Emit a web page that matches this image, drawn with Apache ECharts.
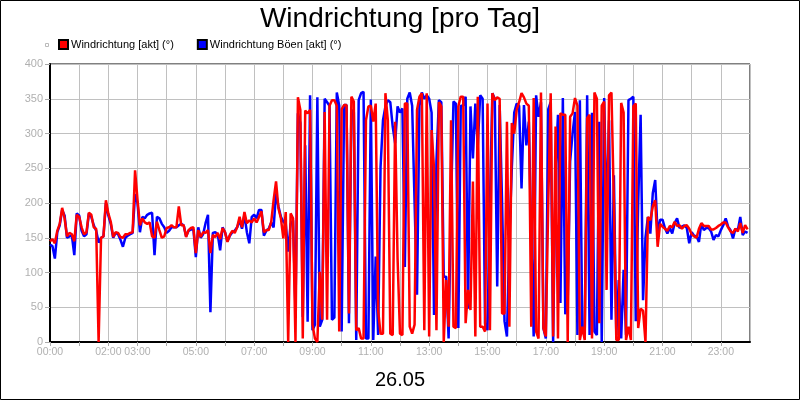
<!DOCTYPE html>
<html>
<head>
<meta charset="utf-8">
<script src="https://cdn.jsdelivr.net/npm/echarts@6/dist/echarts.min.js"></script>
<style>
  body { margin: 0; background: #fff; }
  #chart { width: 800px; height: 400px; }
</style>
</head>
<body>
<div id="chart"></div>
<script>
// 5-Minuten-Werte, eine Zeile pro Stunde (00:00 .. 23:55)
const windAkt = [
  145, 148, 142, 160, 170, 193, 178, 152, 157, 155, 145, 183,
  180, 165, 155, 158, 186, 183, 165, 163, 0, 150, 152, 204,
  185, 173, 151, 158, 157, 151, 150, 155, 155, 157, 158, 247,
  205, 168, 178, 172, 170, 172, 152, 150, 173, 161, 150, 152,
  164, 165, 168, 165, 165, 195, 168, 168, 151, 161, 164, 165,
  128, 161, 151, 158, 157, 161, 128, 154, 151, 157, 148, 164,
  158, 144, 154, 160, 157, 165, 180, 165, 187, 171, 175, 172,
  178, 172, 180, 188, 158, 161, 161, 172, 204, 231, 192, 178,
  149, 187, 0, 185, 178, 0, 352, 334, 5, 333, 329, 334,
  25, 5, 0, 101, 32, 331, 32, 340, 348, 348, 340, 15,
  335, 341, 341, 41, 353, 346, 17, 20, 5, 5, 319, 339,
  340, 317, 343, 46, 12, 12, 358, 319, 12, 10, 317, 120,
  12, 10, 343, 343, 22, 12, 25, 334, 353, 358, 17, 358,
  8, 305, 250, 17, 345, 339, 0, 89, 22, 319, 22, 20,
  339, 353, 353, 27, 75, 46, 231, 8, 353, 22, 22, 15,
  343, 17, 358, 348, 352, 350, 41, 41, 317, 22, 315, 300,
  334, 345, 358, 352, 343, 340, 22, 351, 15, 5, 359, 20,
  8, 200, 358, 8, 310, 5, 329, 327, 327, 0, 324, 329,
  351, 340, 3, 22, 3, 322, 327, 5, 359, 350, 27, 340,
  346, 75, 355, 359, 200, 3, 3, 344, 330, 3, 22, 3,
  339, 343, 20, 48, 45, 0, 180, 175, 195, 204, 137, 170,
  166, 163, 160, 167, 165, 173, 167, 168, 163, 167, 168, 163,
  155, 152, 150, 163, 171, 167, 167, 167, 162, 162, 164, 167,
  169, 172, 172, 165, 159, 157, 163, 159, 171, 157, 168, 162
];
const windBoeen = [
  140, 138, 120, 158, 168, 190, 182, 150, 152, 153, 125, 185,
  182, 160, 152, 155, 185, 180, 168, 160, 143, 150, 152, 200,
  182, 170, 150, 157, 155, 147, 137, 150, 153, 155, 157, 213,
  200, 158, 180, 178, 183, 185, 186, 125, 180, 178, 170, 165,
  157, 160, 165, 165, 165, 168, 170, 168, 152, 160, 162, 162,
  122, 165, 150, 155, 171, 183, 43, 157, 158, 155, 132, 165,
  158, 145, 153, 158, 160, 165, 175, 163, 183, 158, 142, 180,
  183, 178, 190, 190, 153, 160, 163, 172, 165, 214, 195, 180,
  173, 170, 130, 170, 175, 46, 329, 315, 36, 283, 29, 355,
  17, 25, 352, 22, 32, 350, 345, 340, 32, 35, 359, 340,
  15, 341, 341, 27, 334, 331, 3, 348, 358, 360, 5, 5,
  349, 3, 123, 10, 252, 319, 339, 348, 345, 310, 286, 339,
  330, 336, 108, 350, 359, 340, 200, 68, 340, 359, 350, 355,
  350, 330, 39, 260, 348, 345, 94, 94, 5, 200, 346, 343,
  20, 340, 340, 353, 48, 339, 264, 343, 283, 355, 350, 27,
  17, 200, 358, 350, 80, 341, 200, 30, 8, 150, 250, 330,
  343, 340, 221, 341, 283, 317, 150, 8, 355, 324, 345, 20,
  5, 335, 345, 0, 250, 327, 56, 351, 40, 60, 260, 300,
  331, 10, 348, 15, 10, 355, 10, 330, 15, 10, 317, 0,
  351, 176, 319, 32, 240, 10, 89, 5, 104, 10, 348, 350,
  353, 30, 200, 327, 60, 150, 180, 156, 214, 233, 154, 176,
  176, 164, 156, 164, 156, 171, 178, 164, 166, 168, 164, 142,
  158, 153, 152, 144, 171, 161, 164, 164, 159, 147, 154, 152,
  161, 168, 178, 166, 161, 149, 163, 161, 180, 154, 159, 157
];
const xLabels = ["00:00", "02:00", "03:00", "05:00", "07:00", "09:00", "11:00",
  "13:00", "15:00", "17:00", "19:00", "21:00", "23:00"];
const yTicks = [0, 50, 100, 150, 200, 250, 300, 350, 400];

const nameAkt = "Windrichtung [akt] (°)";
const nameBoeen = "Windrichtung Böen [akt] (°)";

// Minuten seit Mitternacht
const minutes = windAkt.map((v, i) => i * 5);
const font = "'Liberation Sans', Arial, sans-serif";

const myChart = echarts.init(document.getElementById("chart"));
myChart.setOption({
  animation: false,
  backgroundColor: "#fff",
  title: [
    {
      text: "Windrichtung [pro Tag]",
      left: "center",
      top: 0,
      textStyle: { fontFamily: font, fontSize: 28, fontWeight: "normal", color: "#000" },
    },
    {
      text: "26.05",
      left: "center",
      top: 365,
      textStyle: { fontFamily: font, fontSize: 20, fontWeight: "normal", color: "#000" },
    },
  ],
  legend: {
    data: [nameAkt, nameBoeen],
    left: 58,
    top: 39,
    padding: 0,
    icon: "rect",
    itemWidth: 9,
    itemHeight: 9,
    itemGap: 23,
    textStyle: { fontFamily: font, fontSize: 11, color: "#000", padding: [0, 0, 0, -2] },
  },
  graphic: [
    {
      type: "rect",
      shape: { x: 0.5, y: 0.5, width: 799, height: 399 },
      style: { fill: "none", stroke: "#000", lineWidth: 1 },
      silent: true,
    },
    {
      type: "rect",
      shape: { x: 45.5, y: 43.5, width: 3, height: 3 },
      style: { fill: "#fff", stroke: "#bbb", lineWidth: 1 },
      silent: true,
    },
  ],
  grid: {
    left: 50,
    right: 50,
    top: 64,
    bottom: 58,
    show: true,
    borderColor: "#000",
    borderWidth: 1,
  },
  xAxis: {
    type: "value",
    min: 0,
    max: 1440,
    interval: 60,
    axisLine: { lineStyle: { color: "#000", width: 2 } },
    axisTick: { length: 4, lineStyle: { color: "#aaa" } },
    axisLabel: {
      color: "#b0b0b0",
      fontFamily: font,
      fontSize: 10.5,
      margin: 5,
      showMaxLabel: false,
      formatter: (v) => {
        const s = String(v / 60).padStart(2, "0") + ":00";
        return xLabels.includes(s) ? s : "";
      },
    },
    splitLine: { show: true, lineStyle: { color: "#c0c0c0", width: 1 } },
  },
  yAxis: {
    type: "value",
    min: yTicks[0],
    max: yTicks[yTicks.length - 1],
    interval: 50,
    axisLine: { show: true, lineStyle: { color: "#000", width: 2 } },
    axisTick: { show: true, length: 5, lineStyle: { color: "#aaa" } },
    axisLabel: { color: "#b0b0b0", fontFamily: font, fontSize: 11, margin: 7 },
    splitLine: { show: true, lineStyle: { color: "#c0c0c0", width: 1 } },
  },
  series: [
    {
      name: nameBoeen,
      type: "line",
      symbol: "none",
      data: minutes.map((m, i) => [m, windBoeen[i]]),
      color: "#0000ff",
      itemStyle: { color: "#0000ff", borderColor: "#000", borderWidth: 1 },
      lineStyle: { color: "#0000ff", width: 2.5 },
    },
    {
      name: nameAkt,
      type: "line",
      symbol: "none",
      data: minutes.map((m, i) => [m, windAkt[i]]),
      color: "#ff0000",
      itemStyle: { color: "#ff0000", borderColor: "#000", borderWidth: 1 },
      lineStyle: { color: "#ff0000", width: 2.5 },
    },
  ],
});
</script>
</body>
</html>
